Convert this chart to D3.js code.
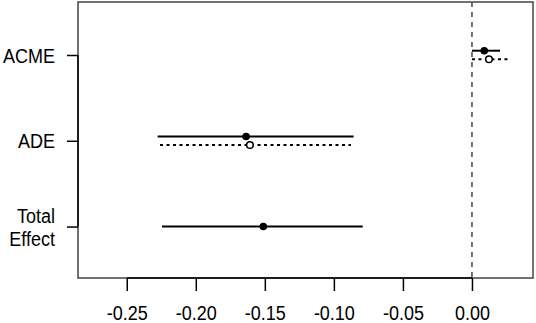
<!DOCTYPE html>
<html><head><meta charset="utf-8">
<script src="https://cdn.jsdelivr.net/npm/d3@7"></script>
<style>body{margin:0;background:#fff}svg{display:block}text{font-family:"Liberation Sans",Arial,sans-serif;fill:#000}</style>
</head><body><svg id="c" width="536" height="323"></svg>
<script>
// Data
const categories = ["ACME", "ADE", "Total Effect"];
const categoryLines = [["ACME"], ["ADE"], ["Total", "Effect"]];
// solid series (filled points)
const solidEst = [0.0089, -0.1636, -0.1511];
const solidLo  = [0.0000, -0.2276, -0.2245];
const solidHi  = [0.0203, -0.0857, -0.0791];
// dotted series (open points); Total Effect has none
const dotEst = [0.0123, -0.1608, null];
const dotLo  = [0.0000, -0.2259, null];
const dotHi  = [0.0268, -0.0876, null];
const xTicks = [-0.25, -0.20, -0.15, -0.10, -0.05, 0.00];

const svg = d3.select("#c");
const L = 78, R = 533, T = 2, B = 278;
const x = d3.scaleLinear().domain([-0.2853, 0.0442]).range([L, R]);
const y = d3.scaleLinear().domain([0.382, 3.6]).range([T, B]);
const off = 4.3;
const FS = 18, SY = 1.1;

// box
svg.append("rect").attr("x", L).attr("y", T).attr("width", R - L).attr("height", B - T)
  .attr("fill", "none").attr("stroke", "#444").attr("stroke-width", 1.5);

// zero line
svg.append("line").attr("x1", x(0)).attr("x2", x(0)).attr("y1", T).attr("y2", B)
  .attr("stroke", "#444").attr("stroke-width", 1.5).attr("stroke-dasharray", "5,5");

// x axis
const xa = d3.axisBottom(x).tickValues(xTicks).tickFormat(d3.format(".2f")).tickSize(13).tickSizeOuter(0);
const gx = svg.append("g").attr("transform", `translate(0,${B})`).call(xa);
gx.select(".domain").attr("d", `M${x(xTicks[0])},0H${x(xTicks[xTicks.length-1])}`).attr("stroke", "#000").attr("stroke-width", 1.5);
gx.selectAll(".tick line").attr("stroke", "#000").attr("stroke-width", 1.5);
gx.selectAll(".tick text").attr("font-size", FS).attr("font-family", "Liberation Sans, Arial, sans-serif")
  .attr("fill", "#000").attr("y", 0).attr("dy", null).attr("transform", `translate(0,42) scale(1,${SY})`)
  .text(d => d3.format(".2f")(d).replace("−", "-"));

// y axis
const ya = d3.axisLeft(y).tickValues([1, 2, 3]).tickFormat(() => "").tickSize(11).tickSizeOuter(0);
const gy = svg.append("g").attr("transform", `translate(${L},0)`).call(ya);
gy.select(".domain").attr("d", `M0,${y(1)}V${y(3)}`).attr("stroke", "#000").attr("stroke-width", 1.5);
gy.selectAll(".tick line").attr("stroke", "#000").attr("stroke-width", 1.5);

categoryLines.forEach((lines, i) => {
  const cy = y(i + 1);
  const n = lines.length;
  lines.forEach((s, j) => {
    const by = cy + 7.5 + (j - (n - 1) / 2) * 23;
    svg.append("text").attr("text-anchor", "end").attr("font-size", FS)
      .attr("transform", `translate(55,${by}) scale(1,${SY})`).text(s);
  });
});

// intervals
const g = svg.append("g");
categories.forEach((c, i) => {
  const yy = dotEst[i] == null ? y(i + 1) : y(i + 1) - off;
  g.append("line").attr("x1", x(solidLo[i])).attr("x2", x(solidHi[i])).attr("y1", yy).attr("y2", yy)
    .attr("stroke", "#000").attr("stroke-width", 2);
  g.append("circle").attr("cx", x(solidEst[i])).attr("cy", yy).attr("r", 3.8).attr("fill", "#000");
  if (dotEst[i] != null) {
    const y2 = y(i + 1) + off;
    g.append("line").attr("x1", x(dotLo[i])).attr("x2", x(dotHi[i])).attr("y1", y2).attr("y2", y2)
      .attr("stroke", "#000").attr("stroke-width", 2).attr("stroke-dasharray", "3,3.5");
    g.append("circle").attr("cx", x(dotEst[i])).attr("cy", y2).attr("r", 3.3)
      .attr("fill", "#fff").attr("stroke", "#000").attr("stroke-width", 1.5);
  }
});
</script></body></html>
